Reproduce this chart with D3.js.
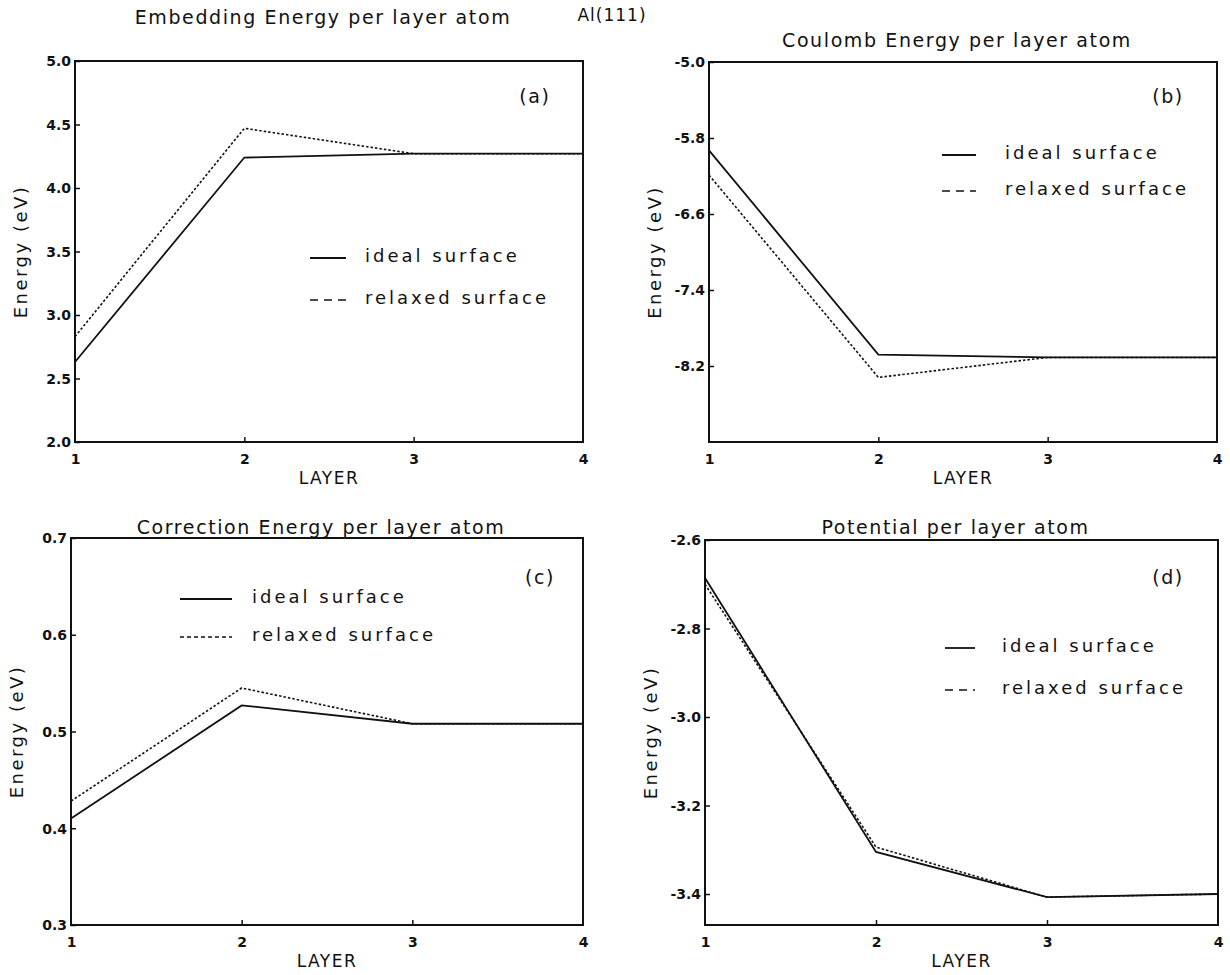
<!DOCTYPE html>
<html>
<head>
<meta charset="utf-8">
<script src="https://cdn.jsdelivr.net/npm/d3@7"></script>
<style>
  html, body { margin: 0; padding: 0; background: #fff; }
  svg text { fill: #111; }
  .tick-label { font-family: "DejaVu Sans", sans-serif; font-weight: bold; font-size: 14px; }
  .title { font-family: "DejaVu Sans", sans-serif; font-size: 19px; letter-spacing: 1.6px; }
  .main-title { font-family: "DejaVu Sans", sans-serif; font-size: 17px; letter-spacing: 1px; }
  .axis-title { font-family: "DejaVu Sans", sans-serif; font-size: 17px; letter-spacing: 1.5px; }
  .ylab { font-family: "DejaVu Sans", sans-serif; font-size: 18px; letter-spacing: 2.5px; }
  .legend { font-family: "DejaVu Sans", sans-serif; font-size: 18px; letter-spacing: 3px; }
</style>
</head>
<body>
<svg id="chart" width="1230" height="975"></svg>
<script>
// Layers along the x axis
const layers = [1, 2, 3, 4];

// (a) Embedding energy per layer atom (eV)
const embedIdeal   = [2.63, 4.24, 4.27, 4.27];
const embedRelaxed = [2.83, 4.47, 4.27, 4.27];
const embedTicks   = [2.0, 2.5, 3.0, 3.5, 4.0, 4.5, 5.0];

// (b) Coulomb energy per layer atom (eV)
const coulIdeal   = [-5.93, -8.08, -8.11, -8.11];
const coulRelaxed = [-6.19, -8.32, -8.11, -8.11];
const coulTicks   = [-5.0, -5.8, -6.6, -7.4, -8.2];

// (c) Correction energy per layer atom (eV)
const corrIdeal   = [0.410, 0.527, 0.508, 0.508];
const corrRelaxed = [0.428, 0.545, 0.508, 0.508];
const corrTicks   = [0.3, 0.4, 0.5, 0.6, 0.7];

// (d) Potential per layer atom (eV)
const potIdeal   = [-2.686, -3.305, -3.407, -3.400];
const potRelaxed = [-2.700, -3.294, -3.407, -3.400];
const potTicks   = [-2.6, -2.8, -3.0, -3.2, -3.4];

const svg = d3.select("#chart");

svg.append("text").attr("class", "main-title")
  .attr("x", 612).attr("y", 21).attr("text-anchor", "middle")
  .text("Al(111)");

const panels = [
  { title: "Embedding Energy per layer atom", tag: "(a)",
    ideal: embedIdeal, relaxed: embedRelaxed, ticks: embedTicks, domain: [2.0, 5.0],
    box: { x0: 75, x1: 583, y0: 61, y1: 442 }, titleY: 24,
    legend: { x: 310, len: 36, y1: 258, y2: 300, tx: 365, dash: "8,6" }, tagPos: [535, 103] },
  { title: "Coulomb Energy per layer atom", tag: "(b)",
    ideal: coulIdeal, relaxed: coulRelaxed, ticks: coulTicks, domain: [-9.0, -5.0],
    box: { x0: 709, x1: 1217, y0: 62, y1: 442 }, titleY: 47,
    legend: { x: 942, len: 34, y1: 155, y2: 191, tx: 1005, dash: "8,6" }, tagPos: [1168, 103] },
  { title: "Correction Energy per layer atom", tag: "(c)",
    ideal: corrIdeal, relaxed: corrRelaxed, ticks: corrTicks, domain: [0.3, 0.7],
    box: { x0: 71, x1: 583, y0: 538, y1: 925 }, titleY: 534,
    legend: { x: 180, len: 52, y1: 599, y2: 637, tx: 252, dash: "4,3" }, tagPos: [540, 584] },
  { title: "Potential per layer atom", tag: "(d)",
    ideal: potIdeal, relaxed: potRelaxed, ticks: potTicks, domain: [-3.47, -2.6],
    box: { x0: 705, x1: 1218, y0: 540, y1: 925 }, titleY: 534,
    legend: { x: 945, len: 30, y1: 648, y2: 690, tx: 1002, dash: "8,6" }, tagPos: [1168, 584] }
];

panels.forEach(p => {
  const b = p.box;
  const x = d3.scaleLinear().domain([1, 4]).range([b.x0, b.x1]);
  const y = d3.scaleLinear().domain(p.domain).range([b.y1, b.y0]);
  const g = svg.append("g");

  // frame
  g.append("rect").attr("x", b.x0).attr("y", b.y0)
    .attr("width", b.x1 - b.x0).attr("height", b.y1 - b.y0)
    .attr("fill", "none").attr("stroke", "#111").attr("stroke-width", 2);

  // y axis
  const yAxis = d3.axisLeft(y).tickValues(p.ticks).tickSize(-5)
    .tickFormat(d => d3.format(".1f")(d).replace("\u2212", "-"));
  const ya = g.append("g").attr("transform", `translate(${b.x0},0)`).call(yAxis);
  ya.select(".domain").remove();
  ya.selectAll("line").attr("stroke", "#111").attr("stroke-width", 1.5);
  ya.selectAll("text").attr("class", "tick-label").attr("x", -4).attr("dy", "0.35em").attr("fill", "#111");

  // x axis
  const xAxis = d3.axisBottom(x).tickValues(layers).tickSize(-5).tickFormat(d3.format("d"));
  const xa = g.append("g").attr("transform", `translate(0,${b.y1})`).call(xAxis);
  xa.select(".domain").remove();
  xa.selectAll("line").attr("stroke", "#111").attr("stroke-width", 1.5)
    .attr("display", d => (d === 1 || d === 4) ? "none" : null);
  xa.selectAll("text").attr("class", "tick-label").attr("y", 12).attr("dy", "0.71em").attr("fill", "#111");

  // axis titles
  g.append("text").attr("class", "axis-title")
    .attr("x", (b.x0 + b.x1) / 2).attr("y", b.y1 + 42).attr("text-anchor", "middle")
    .text("LAYER");
  g.append("text").attr("class", "ylab")
    .attr("transform", `translate(${b.x0 - 48},${(b.y0 + b.y1) / 2}) rotate(-90)`)
    .attr("text-anchor", "middle").text("Energy (eV)");

  // panel title and tag
  g.append("text").attr("class", "title")
    .attr("x", (b.x0 + b.x1) / 2 - 6).attr("y", p.titleY).attr("text-anchor", "middle")
    .text(p.title);
  g.append("text").attr("class", "title")
    .attr("x", p.tagPos[0]).attr("y", p.tagPos[1]).attr("text-anchor", "middle")
    .text(p.tag);

  // data lines
  const line = d3.line().x((d, i) => x(layers[i])).y(d => y(d));
  g.append("path").datum(p.relaxed).attr("d", line)
    .attr("fill", "none").attr("stroke", "#111").attr("stroke-width", 1.6)
    .attr("stroke-dasharray", "2.5,2");
  g.append("path").datum(p.ideal).attr("d", line)
    .attr("fill", "none").attr("stroke", "#111").attr("stroke-width", 1.8);

  // legend
  const L = p.legend;
  g.append("line").attr("x1", L.x).attr("x2", L.x + L.len).attr("y1", L.y1).attr("y2", L.y1)
    .attr("stroke", "#111").attr("stroke-width", 1.8);
  g.append("line").attr("x1", L.x).attr("x2", L.x + L.len).attr("y1", L.y2).attr("y2", L.y2)
    .attr("stroke", "#111").attr("stroke-width", 1.6).attr("stroke-dasharray", L.dash);
  g.append("text").attr("class", "legend").attr("x", L.tx).attr("y", L.y1).attr("dy", "0.2em")
    .text("ideal surface");
  g.append("text").attr("class", "legend").attr("x", L.tx).attr("y", L.y2).attr("dy", "0.2em")
    .text("relaxed surface");
});
</script>
</body>
</html>
